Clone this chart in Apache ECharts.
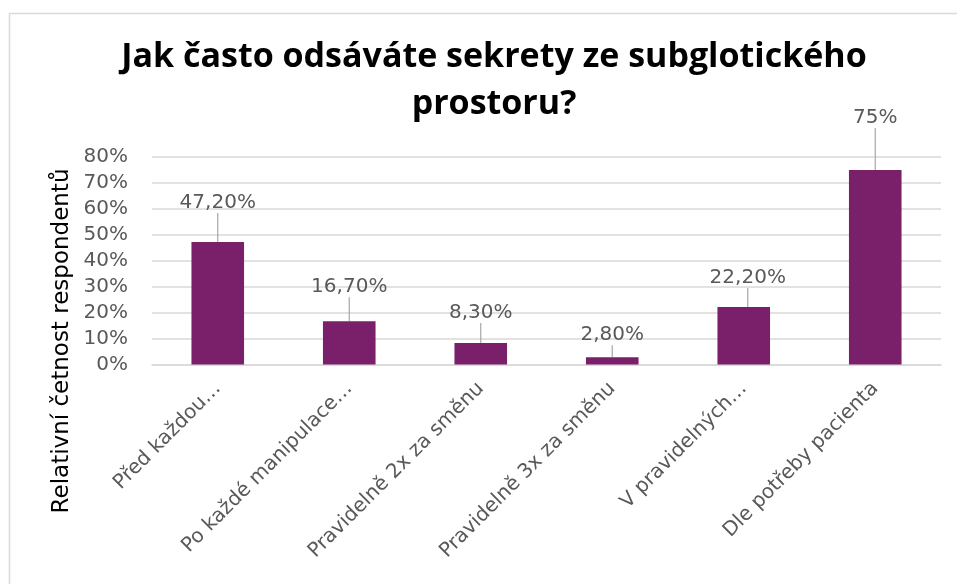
<!DOCTYPE html>
<html>
<head>
<meta charset="utf-8">
<script src="https://cdn.jsdelivr.net/npm/echarts@6/dist/echarts.min.js"></script>
<style>
  html, body { margin: 0; padding: 0; background: #ffffff; }
  #chart { width: 957px; height: 584px; }
</style>
</head>
<body>
<div id="chart"></div>
<script>
// Survey answers: how often subglottic secretions are suctioned
const categories = [
  'Před každou…',
  'Po každé manipulace…',
  'Pravidelně 2x za směnu',
  'Pravidelně 3x za směnu',
  'V pravidelných…',
  'Dle potřeby pacienta'
];
const shares = [47.2, 16.7, 8.3, 2.8, 22.2, 75];
const yTickValues = [0, 10, 20, 30, 40, 50, 60, 70, 80];

// label offsets (dx, dy) so the value labels sit above their bars with a guide line
const labelShift = [[0, -24], [0, -19], [0, -15], [0, -7], [4, -14], [0, -37]];

const TITLE_FONT = '"Open Sans", "Liberation Sans", sans-serif';
const FONT = '"DejaVu Sans", "Open Sans", sans-serif';
const GREY = '#595959';

function pct(v) {
  return Number.isInteger(v) ? v + '%' : v.toFixed(2).replace('.', ',') + '%';
}

const chart = echarts.init(document.getElementById('chart'), null, { renderer: 'canvas' });

chart.setOption({
  backgroundColor: '#ffffff',
  animation: false,
  title: {
    text: 'Jak často odsáváte sekrety ze subglotického\nprostoru?',
    left: 489,
    top: 29,
    textAlign: 'center',
    textStyle: {
      fontFamily: TITLE_FONT,
      fontWeight: 'bold',
      fontSize: 34,
      lineHeight: 47,
      color: '#000000'
    }
  },
  graphic: [
    {
      type: 'rect',
      shape: { x: 9.5, y: 13.5, width: 1200, height: 1200 },
      style: { fill: 'none', stroke: '#d9d9d9', lineWidth: 1.5 },
      silent: true
    },
    {
      type: 'text',
      x: 62,
      y: 341,
      rotation: Math.PI / 2,
      style: {
        text: 'Relativní četnost respondentů',
        fontFamily: FONT,
        fontSize: 23,
        fill: '#000000',
        align: 'center',
        verticalAlign: 'middle'
      }
    }
  ],
  grid: { left: 152, right: 16, top: 157, bottom: 219.5, containLabel: false },
  xAxis: {
    type: 'category',
    data: categories,
    axisLine: { show: true, lineStyle: { color: '#d9d9d9', width: 1.5 } },
    axisTick: { show: false },
    axisLabel: {
      rotate: 45,
      interval: 0,
      margin: 21,
      fontFamily: FONT,
      fontSize: 20,
      color: GREY
    }
  },
  yAxis: {
    type: 'value',
    min: yTickValues[0],
    max: yTickValues[yTickValues.length - 1],
    interval: 10,
    axisLine: { show: false },
    axisTick: { show: false },
    splitLine: { lineStyle: { color: '#d9d9d9', width: 1.5 } },
    axisLabel: {
      margin: 24,
      fontFamily: FONT,
      fontSize: 20,
      color: GREY,
      formatter: v => v + '%'
    }
  },
  series: [{
    type: 'bar',
    data: shares,
    barWidth: '40%',
    itemStyle: { color: '#7a1f6a' },
    label: {
      show: true,
      position: 'top',
      distance: 5,
      fontFamily: FONT,
      fontSize: 20,
      color: GREY,
      formatter: p => pct(p.value)
    },
    labelLayout: p => ({ dx: labelShift[p.dataIndex][0], dy: labelShift[p.dataIndex][1] }),
    labelLine: { show: true, lineStyle: { color: '#a6a6a6', width: 1.2 } }
  }]
});
</script>
</body>
</html>
